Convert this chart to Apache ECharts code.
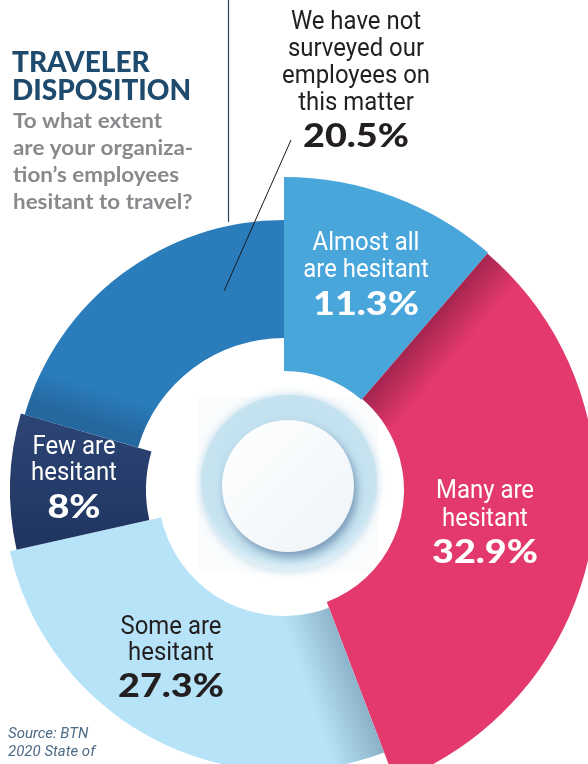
<!DOCTYPE html>
<html>
<head>
<meta charset="utf-8">
<script src="https://cdn.jsdelivr.net/npm/echarts@6/dist/echarts.min.js"></script>
<style>
html,body{margin:0;padding:0;background:#fff;}
#chart{width:588px;height:764px;}
</style>
</head>
<body>
<div id="chart"></div>
<script>
// ---- data ----
const categories = [
  'Almost all are hesitant',
  'Many are hesitant',
  'Some are hesitant',
  'Few are hesitant',
  'We have not surveyed our employees on this matter'
];
const values = [11.3, 32.9, 27.3, 8, 20.5];
const labelLines = [
  ['Almost all', 'are hesitant'],
  ['Many are', 'hesitant'],
  ['Some are', 'hesitant'],
  ['Few are', 'hesitant'],
  ['We have not', 'surveyed our', 'employees on', 'this matter']
];
const titleLines = ['TRAVELER', 'DISPOSITION'];
const subtitleLines = ['To what extent', 'are your organiza-', 'tion\u2019s employees', 'hesitant to travel?'];
const sourceLines = ['Source: BTN', '2020 State of'];

// ---- layout / style ----
const CENTER = [284, 490];
const radii = [[119, 313], [120, 312], [126, 281], [138, 274], [152, 270]];
const colors = [
  '#48a6db',
  {type:'linear', global:true, x:425, y:325, x2:458, y2:353,
    colorStops:[{offset:0,color:'#a3254e'},{offset:1,color:'#e4396d'}]},
  {type:'linear', global:true, x:362, y:680, x2:310, y2:698,
    colorStops:[{offset:0,color:'#88aec4'},{offset:1,color:'#b7e3f8'}]},
  {type:'linear', x:0, y:0, x2:0, y2:1,
    colorStops:[{offset:0,color:'#2d4576'},{offset:1,color:'#1f345f'}]},
  {type:'linear', global:true, x:90, y:422, x2:100, y2:390,
    colorStops:[{offset:0,color:'#25679f'},{offset:1,color:'#2a7cba'}]}
];
const textColors = ['#fff', '#fff', '#231f20', '#fff', '#231f20'];
// anchor x, first baseline, line step, value baseline
const labelPos = [
  [366, 250, 27, 315],
  [485, 498, 28, 563],
  [171, 634, 26, 697],
  [74, 454, 26, 518],
  [356, 29, 27, 147]
];

const series = values.map((v, k) => ({
  type: 'pie',
  center: CENTER,
  radius: radii[k],
  startAngle: 90,
  clockwise: true,
  silent: true,
  animation: false,
  minAngle: 0,
  z: 2,
  label: {show: false},
  labelLine: {show: false},
  emphasis: {disabled: true},
  itemStyle: {borderWidth: 0},
  data: values.map((val, i) => ({
    name: categories[i],
    value: val,
    itemStyle: i === k ? {color: colors[k], borderWidth: 0} : {color: 'rgba(0,0,0,0)', borderWidth: 0}
  }))
}));

const graphics = [];
const Z = 100;
// decorative button in the hole (below the ring)
graphics.push({type:'rect', z:1, shape:{x:198, y:397, width:180, height:176}, style:{fill:'#fafcfd'}, silent:true});
graphics.push({type:'circle', z:1, shape:{cx:289, cy:483, r:88},
  style:{fill:{type:'radial', x:0.5, y:0.45, r:0.55,
    colorStops:[{offset:0.7,color:'#c3e1ef'},{offset:0.9,color:'#c8e4f1'},{offset:1,color:'#e4f1f7'}]},
    shadowBlur:10, shadowColor:'rgba(170,205,225,0.8)'}, silent:true});
graphics.push({type:'circle', z:1, shape:{cx:288, cy:486, r:66},
  style:{fill:{type:'linear', x:0, y:0, x2:1, y2:1,
    colorStops:[{offset:0,color:'#ffffff'},{offset:1,color:'#eef4f8'}]},
    shadowBlur:9, shadowOffsetX:3, shadowOffsetY:5, shadowColor:'rgba(60,95,140,0.55)'}, silent:true});

// lines
graphics.push({type:'line', z:Z, shape:{x1:228.5, y1:0, x2:228.5, y2:222}, style:{stroke:'#2b4461', lineWidth:1.2}, silent:true});
graphics.push({type:'line', z:Z, shape:{x1:291, y1:140, x2:224, y2:291}, style:{stroke:'#1a1a1a', lineWidth:1}, silent:true});

// title
titleLines.forEach((t, i) => {
  graphics.push({type:'text', z:Z, x:12, y:77 + i * 28, scaleX:1.0,
    style:{text:t, font:'900 28px Lato', fill:'#1d4a6d', textAlign:'left', textVerticalAlign:'bottom'}, silent:true});
});
subtitleLines.forEach((t, i) => {
  graphics.push({type:'text', z:Z, x:13, y:132 + i * 27, scaleX:1.12,
    style:{text:t, font:'bold 20px Lato', fill:'#88898c', textAlign:'left', textVerticalAlign:'bottom'}, silent:true});
});
sourceLines.forEach((t, i) => {
  graphics.push({type:'text', z:Z, x:8, y:742 + i * 18,
    style:{text:t, font:'italic 15px Roboto', fill:'#4d6a86', textAlign:'left', textVerticalAlign:'bottom'}, silent:true});
});

// segment labels
values.forEach((v, k) => {
  const [x, b0, step, vb] = labelPos[k];
  labelLines[k].forEach((t, j) => {
    graphics.push({type:'text', z:Z, x:x, y:b0 + j * step - 7, scaleX:0.92, scaleY:1,
      style:{text:t, font:'26px Roboto', fill:textColors[k], textAlign:'center', textVerticalAlign:'middle'}, silent:true});
  });
  graphics.push({type:'text', z:Z, x:x, y:vb - 10, scaleX:1.18,
    style:{text:v + '%', font:'900 32px Lato', fill:textColors[k], textAlign:'center', textVerticalAlign:'middle'}, silent:true});
});

const chart = echarts.init(document.getElementById('chart'), null, {renderer:'canvas'});
chart.setOption({
  animation: false,
  backgroundColor: '#ffffff',
  series: series,
  graphic: {elements: graphics}
});
</script>
</body>
</html>
